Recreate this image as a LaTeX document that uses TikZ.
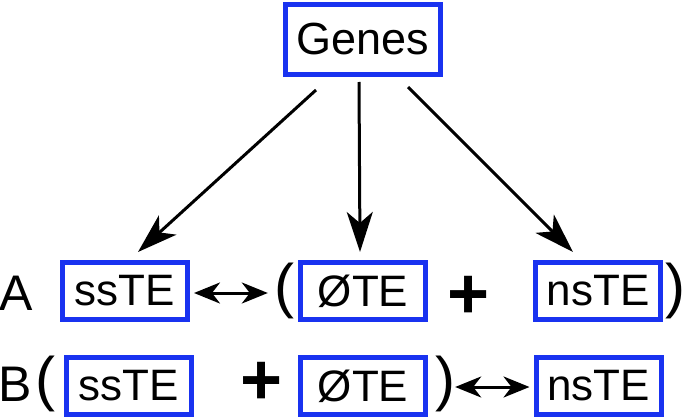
\documentclass[tikz,border=0pt]{standalone}
\usepackage{fontspec}
\setmainfont{Liberation Sans}
\usetikzlibrary{arrows.meta,calc}
\definecolor{boxblue}{RGB}{25,50,240}
\begin{document}
\begin{tikzpicture}[x=1pt,y=-1pt,
  tebox/.style={draw=boxblue,line width=5pt,minimum width=125pt,minimum height=57pt,inner sep=0pt,font=\fontsize{44}{44}\selectfont},
  lbl/.style={inner sep=0pt,font=\fontsize{50}{50}\selectfont},
  paren/.style={inner sep=0pt,font=\fontsize{60}{60}\selectfont},
  plus/.style={inner sep=0pt,font=\fontsize{72}{72}\selectfont\bfseries},
  bigarrow/.style={line width=3pt,arrows={-Stealth[length=40pt,width=26pt,inset=11pt]}},
  halfarrow/.style={line width=3pt,arrows={-Stealth[length=26pt,width=21pt,inset=8pt]}}
]
\useasboundingbox (0,0) rectangle (685,417);
\node[tebox,minimum width=155pt,minimum height=70pt,font=\fontsize{45}{45}\selectfont] (genes) at (363,39.5) {Genes};
% row A
\node[lbl] (lA) at (16,293) {A};
\node[tebox] (ssA) at (125,291) {ssTE};
\node[paren] (lpA) at (284,291) {(};
\node[tebox] (oeA) at (363,291) {ØTE};
\node[plus] (plA) at (469,297) {+};
\node[tebox] (nsA) at (598,291) {nsTE};
\node[paren] (rpA) at (675,291) {)};
% row B
\node[lbl] (lB) at (15,384) {B};
\node[paren] (lpB) at (45,384) {(};
\node[tebox] (ssB) at (128.5,386) {ssTE};
\node[plus] (plB) at (262,383) {+};
\node[tebox] (oeB) at (363,386) {ØTE};
\node[paren] (rpB) at (445,384) {)};
\node[tebox] (nsB) at (598.5,386) {nsTE};
% arrows
\draw[bigarrow] ($(genes.south)+(-47,13)$) -- ($(ssA.north)+(13,-8)$);
\draw[bigarrow] ($(genes.south)+(-4,5)$) -- ($(oeA.north)+(-3,-8)$);
\draw[bigarrow] ($(genes.south)+(45,10)$) -- ($(nsA.north)+(-25,-8)$);
\coordinate (mA) at ($(ssA.east)!0.5!(lpA.west |- ssA.east)+(-1,2)$);
\draw[halfarrow] (mA) -- ($(ssA.east)+(4,2)$);
\draw[halfarrow] (mA) -- ($(lpA.west |- ssA.east)+(-6,2)$);
\coordinate (mB) at ($(rpB.east |- nsB.west)!0.5!(nsB.west)+(-2,1)$);
\draw[halfarrow] (mB) -- ($(rpB.east |- nsB.west)+(0,1)$);
\draw[halfarrow] (mB) -- ($(nsB.west)+(-4,1)$);
\end{tikzpicture}
\end{document}
